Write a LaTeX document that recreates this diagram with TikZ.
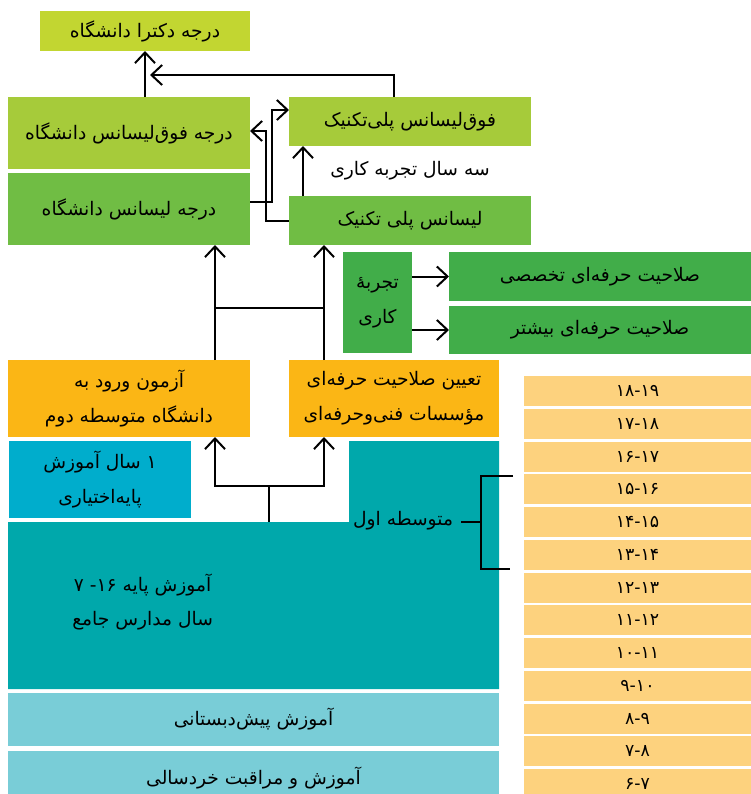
\documentclass[tikz,border=0pt]{standalone}
\usepackage{fontspec}
\newfontfamily\fa[Script=Arabic]{DejaVu Sans}
\TeXXeTstate=1
\usetikzlibrary{arrows.meta, calc}

\definecolor{drlime}{HTML}{C2D631}
\definecolor{mslime}{HTML}{A6CB3A}
\definecolor{bsgreen}{HTML}{70BD44}
\definecolor{wkgreen}{HTML}{41AD49}
\definecolor{exorange}{HTML}{FBB615}
\definecolor{optblue}{HTML}{00ADCC}
\definecolor{basteal}{HTML}{00A8AB}
\definecolor{prelight}{HTML}{79CDD7}
\definecolor{agepeach}{HTML}{FDD27E}

\newcommand{\rtltext}[1]{\beginR #1\endR}

\tikzset{
	sz/.style 2 args={minimum width=#1*0.75pt, minimum height=#2*0.75pt},
	box/.style={inner sep=0pt, outer sep=0pt, align=center, font=\fa\fontsize{14}{26}\selectfont},
	agebox/.style={box, fill=agepeach, sz={227}{30}, font=\fa\fontsize{13}{14}\selectfont},
	link/.style={line width=1.5pt},
	arr/.style={link, -{Straight Barb[length=8pt, width=15pt]}},
}

\begin{document}
\begin{tikzpicture}[x=0.75pt, y=-0.75pt]
	\clip (0,0) rectangle (751,794);

	\node[box, fill=drlime, sz={210}{40}] (dr) at (145,31) {\rtltext{درجه دکترا دانشگاه}};
	\node[box, fill=mslime, sz={242}{72}] (msu) at (129,133) {\rtltext{درجه فوق^^^^200cلیسانس دانشگاه}};
	\node[box, fill=bsgreen, sz={242}{72}] (bsu) at (129,209) {\rtltext{درجه لیسانس دانشگاه}};
	\node[box, fill=mslime, sz={242}{49}] (msp) at (410,121.5) {\rtltext{فوق^^^^200cلیسانس پلی^^^^200cتکنیک}};
	\node[box, fill=bsgreen, sz={242}{49}] (bsp) at (410,220.5) {\rtltext{لیسانس پلی تکنیک}};
	\node[box] (yrs) at (410,171) {\rtltext{سه سال تجربه کاری}};

	\draw[arr] (dr.south |- msu.north) -- (dr.south);
	\draw[arr] ($(msp.north)+(-16,0)$) |- ($(dr.south)+(5,24)$);
	\draw[arr] ($(bsu.east)+(0,-7)$) -- ++(22,0) |- ($(msp.west)+(0,-11.5)$);
	\draw[arr] (bsp.west) -- ++(-23,0) |- ($(msu.east)+(0,-2)$);
	\draw[arr] ($(bsp.north)+(-107,0)$) -- ($(msp.south)+(-107,0)$);

	\node[box, fill=wkgreen, sz={69}{101}] (wk) at (377.5,302.5) {\rtltext{تجربه^^^^0654}\\\rtltext{کاری}};
	\node[box, fill=wkgreen, sz={302}{49}] (spc) at (600,276.5) {\rtltext{صلاحیت حرفه^^^^200cای تخصصی}};
	\node[box, fill=wkgreen, sz={302}{48}] (mor) at (600,330) {\rtltext{صلاحیت حرفه^^^^200cای بیشتر}};
	\draw[arr] (wk.east |- spc.west) -- (spc.west);
	\draw[arr] (wk.east |- mor.west) -- (mor.west);

	\node[box, fill=exorange, sz={242}{77}] (exam) at (129,398.5) {\rtltext{آزمون ورود به}\\\rtltext{دانشگاه متوسطه دوم}};
	\node[box, fill=exorange, sz={210}{77}] (voc) at (394,398.5) {\rtltext{تعیین صلاحیت حرفه^^^^200cای}\\\rtltext{مؤسسات فنی^^^^200cوحرفه^^^^200cای}};
	\coordinate (uniA) at ($(exam.north)+(86,0)$);
	\coordinate (polA) at ($(voc.north)+(-70,0)$);
	\coordinate (uniB) at (uniA |- bsu.south);
	\coordinate (polB) at (polA |- bsp.south);
	\draw[arr] (uniA) -- (uniB);
	\draw[arr] (polA) -- (polB);
	\draw[link] ($(uniA)!.45!(uniB)$) -- ($(polA)!.45!(polB)$);

	\node[box, fill=optblue, sz={182}{77}] (opt) at (100,479.5) {\rtltext{۱ سال آموزش}\\\rtltext{پایه^^^^200cاختیاری}};
	\fill[basteal] (8,522) -- (349,522) -- (349,441) -- (499,441) -- (499,689) -- (8,689) -- cycle;
	\coordinate (stem) at (269,522);
	\node[box, anchor=east] (basetxt) at (213,602) {\rtltext{آموزش پایه ۱۶- ۷}\\\rtltext{سال مدارس جامع}};
	\node[box, anchor=east] (mot1) at (453,521) {\rtltext{متوسطه اول}};
	\node[box, fill=prelight, sz={491}{53}] (pre) at (253.5,719.5) {\rtltext{آموزش پیش^^^^200cدبستانی}};
	\node[box, fill=prelight, sz={491}{54}] (kid) at (253.5,778) {\rtltext{آموزش و مراقبت خردسالی}};

	\draw[link] (stem) -- ++(0,-36) coordinate (fork);
	\draw[arr] (fork) -| (uniA |- exam.south);
	\draw[arr] (fork) -| (polA |- voc.south);

	\foreach \lbl [count=\i from 0] in {۱۸-۱۹,۱۷-۱۸,۱۶-۱۷,۱۵-۱۶,۱۴-۱۵,۱۳-۱۴,۱۲-۱۳,۱۱-۱۲,۱۰-۱۱,۹-۱۰,۸-۹,۷-۸,۶-۷}
		\node[agebox] (age\i) at (637.5, 391+32.75*\i) {\lbl};

	\coordinate (brkT) at ($(age3.north west)+(-43,1.5)$);
	\coordinate (brkB) at ($(age6.north west)+(-43,-3.5)$);
	\draw[link] ($(age3.north west)+(-11,1.5)$) -- (brkT) -- (brkB) -- ($(age6.north west)+(-14,-3.5)$);
	\draw[link] ($(brkT)!.5!(brkB)$) -- ++(-20,0);
\end{tikzpicture}
\end{document}
